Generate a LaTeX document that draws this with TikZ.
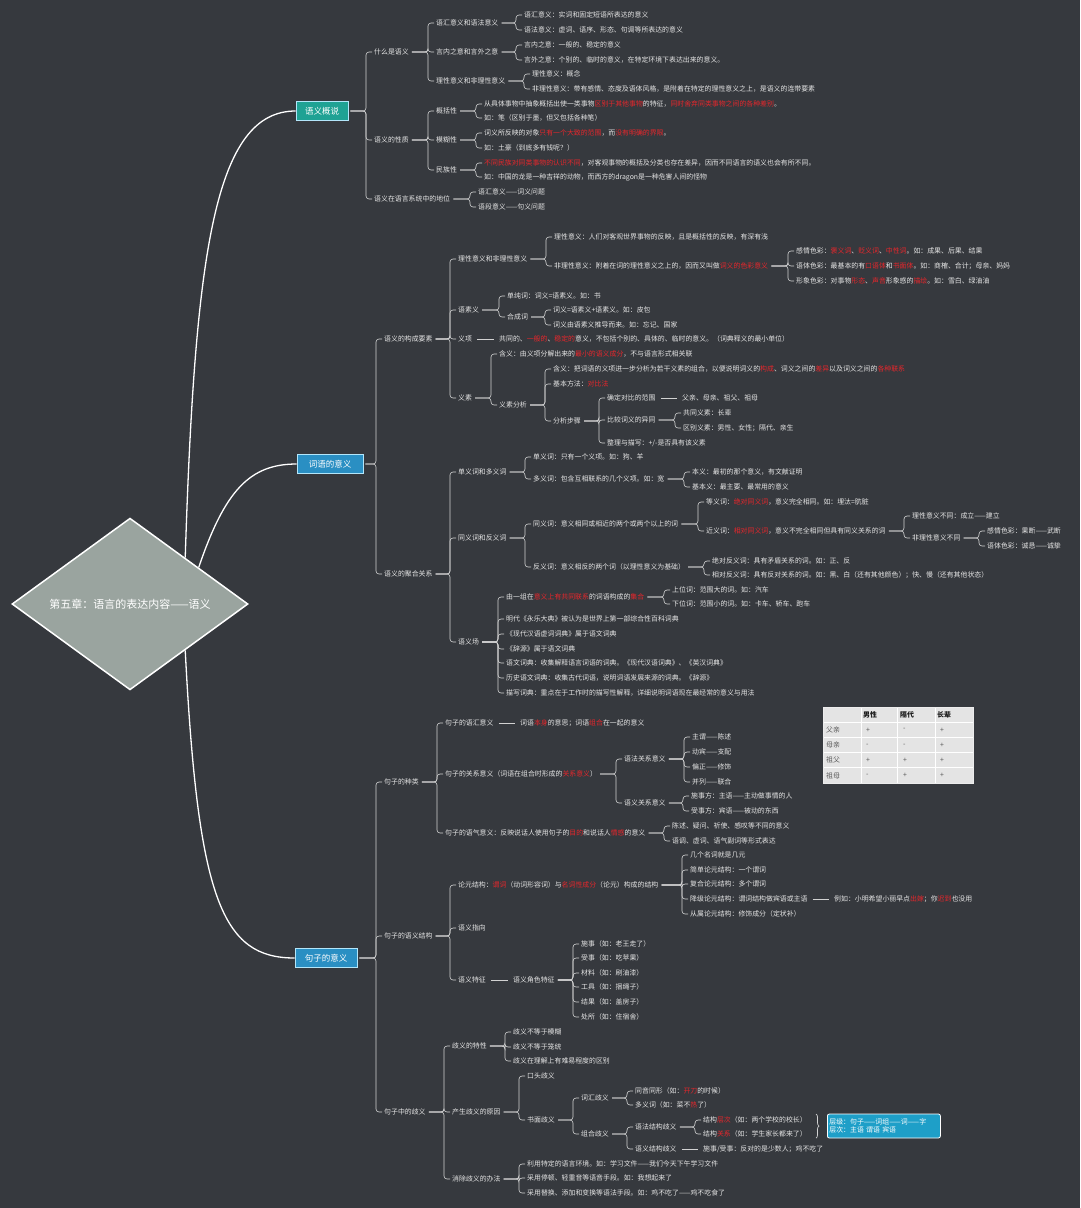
\documentclass[tikz,border=0pt]{standalone}
\usepackage{fontspec}
\setmainfont{Noto Sans CJK SC}
\usetikzlibrary{shapes.geometric,calc,decorations.pathreplacing}
\definecolor{bg}{HTML}{36393E}
\definecolor{txt}{HTML}{E6E6E6}
\definecolor{ln}{HTML}{D2D2D2}
\definecolor{hl}{HTML}{E8262B}
\definecolor{teal1}{HTML}{1FA294}
\definecolor{blue1}{HTML}{2A8FC3}
\definecolor{dia}{HTML}{9AA49F}
\definecolor{tbbg}{HTML}{E4E4E4}
\definecolor{call}{HTML}{1E9FC8}
\newcommand\fs{\fontsize{6.9}{8}\selectfont}
\newcommand\rd[1]{\textcolor{hl}{#1}}
\tikzset{
  lbl/.style={anchor=west, inner sep=1pt, text=txt, font=\fs, text height=6.1pt, text depth=0.9pt},
  conn/.style={draw=ln, line width=0.6pt, rounded corners=3pt},
  trunk/.style={draw=white, line width=1.3pt},
  mainbox/.style={draw=white!70!cyan, line width=0.7pt, text=white, font=\fontsize{8.5}{10}\selectfont, inner sep=0pt, minimum height=19pt},
  tbtxt/.style={anchor=west, inner sep=0pt, font=\fs, text=black!65},
  tbhead/.style={tbtxt, text=black!90, font=\fs\bfseries},
}
\newcommand\nd[4]{\node[lbl] (#1) at (#2,#3) {#4};}
\newcommand\lk[2]{\path (#2.west) ++(-7,0) coordinate (tmpc); \draw[conn] ([xshift=2pt]#1.east) -- (#1.east -| tmpc) |- ([xshift=-1pt]#2.west);}
\newcommand\lks[2]{\foreach \cc in {#2}{\lk{#1}{\cc}}}
\newcommand\ls[2]{\draw[conn] ([xshift=4pt]#1.east) -- ([xshift=-4pt]#2.west);}
\begin{document}
\begin{tikzpicture}[x=1pt,y=-1pt]
\useasboundingbox (0,0) rectangle (1080,1208);
\fill[bg] (0,0) rectangle (1080,1208);

% root and main branches
\node[diamond, draw=white, line width=1.5pt, fill=dia, minimum width=236pt, minimum height=137pt, inner sep=0pt, text=white, font=\fontsize{11}{13}\selectfont] (root) at (130,604) {第五章：语言的表达内容——语义};
\node[mainbox, fill=teal1, minimum width=52pt] (m1) at (322,111) {语义概说};
\node[mainbox, fill=blue1, minimum width=66pt] (m2) at (330,464) {词语的意义};
\node[mainbox, fill=blue1, minimum width=62pt] (m3) at (326,958) {句子的意义};
\draw[trunk] (root.40) .. controls (195,250) and (215,111) .. (m1.west);
\draw[trunk] (root.28) .. controls (225,490) and (250,464) .. (m2.west);
\draw[trunk] (root.-40) .. controls (198,900) and (222,958) .. (m3.west);

% ===== 语义概说 =====
\nd{a1}{373}{52}{什么是语义}
\nd{a11}{435}{23}{语汇意义和语法意义}
\nd{a111}{523}{15}{语汇意义：实词和固定短语所表达的意义}
\nd{a112}{523}{30}{语法意义：虚词、语序、形态、句调等所表达的意义}
\nd{a12}{435}{52}{言内之意和言外之意}
\nd{a121}{523}{45}{言内之意：一般的、稳定的意义}
\nd{a122}{523}{60}{言外之意：个别的、临时的意义，在特定环境下表达出来的意义。}
\nd{a13}{435}{81}{理性意义和非理性意义}
\nd{a131}{531}{74}{理性意义：概念}
\nd{a132}{531}{89}{非理性意义：带有感情、态度及语体风格，是附着在特定的理性意义之上，是语义的连带要素}
\nd{a2}{373}{140}{语义的性质}
\nd{a21}{435}{111}{概括性}
\nd{a211}{483}{104}{从具体事物中抽象概括出使一类事物\rd{区别于其他事物}的特征，\rd{同时舍弃同类事物之间的各种差别}。}
\nd{a212}{483}{118}{如：笔（区别于墨，但又包括各种笔）}
\nd{a22}{435}{140}{模糊性}
\nd{a221}{483}{133}{词义所反映的对象\rd{只有一个大致的范围}，而\rd{没有明确的界限}。}
\nd{a222}{483}{148}{如：土豪（到底多有钱呢？）}
\nd{a23}{435}{170}{民族性}
\nd{a231}{483}{163}{\rd{不同民族对同类事物的认识不同}，对客观事物的概括及分类也存在差异，因而不同语言的语义也会有所不同。}
\nd{a232}{483}{177}{如：中国的龙是一种吉祥的动物，而西方的dragon是一种危害人间的怪物}
\nd{a3}{373}{199}{语义在语言系统中的地位}
\nd{a31}{477}{192}{语汇意义——词义问题}
\nd{a32}{477}{207}{语段意义——句义问题}

% ===== 词语的意义 =====
\nd{b1}{383}{339}{语义的构成要素}
\nd{b11}{457}{259}{理性意义和非理性意义}
\nd{b111}{553}{237}{理性意义：人们对客观世界事物的反映，且是概括性的反映，有深有浅}
\nd{b112}{553}{266}{非理性意义：附着在词的理性意义之上的，因而又叫做\rd{词义的色彩意义}}
\nd{b1121}{795}{251}{感情色彩：\rd{褒义词}、\rd{贬义词}、\rd{中性词}。如：成果、后果、结果}
\nd{b1122}{795}{266}{语体色彩：最基本的有\rd{口语体}和\rd{书面体}。如：商榷、合计；母亲、妈妈}
\nd{b1123}{795}{281}{形象色彩：对事物\rd{形态}、\rd{声音}形象感的\rd{描绘}。如：雪白、绿油油}
\nd{b12}{457}{310}{语素义}
\nd{b121}{506}{296}{单纯词：词义=语素义。如：书}
\nd{b122}{506}{317}{合成词}
\nd{b1221}{552}{310}{词义=语素义+语素义。如：皮包}
\nd{b1222}{552}{325}{词义由语素义推导而来。如：忘记、国家}
\nd{b13}{457}{339}{义项}
\nd{b131}{498}{339}{共同的、\rd{一般的}、\rd{稳定的}意义，不包括个别的、具体的、临时的意义。（词典释义的最小单位）}
\nd{b14}{457}{398}{义素}
\nd{b141}{498}{354}{含义：由义项分解出来的\rd{最小的语义成分}，不与语言形式相关联}
\nd{b142}{498}{405}{义素分析}
\nd{b1421}{552}{369}{含义：把词语的义项进一步分析为若干义素的组合，以便说明词义的\rd{构成}、词义之间的\rd{差异}以及词义之间的\rd{各种联系}}
\nd{b1422}{552}{384}{基本方法：\rd{对比法}}
\nd{b1423}{552}{421}{分析步骤}
\nd{b14231}{606}{398}{确定对比的范围}
\nd{b142311}{681}{398}{父亲、母亲、祖父、祖母}
\nd{b14232}{606}{420}{比较词义的异同}
\nd{b142321}{682}{413}{共同义素：长辈}
\nd{b142322}{682}{428}{区别义素：男性、女性；隔代、亲生}
\nd{b14233}{606}{443}{整理与描写：+/-是否具有该义素}

\nd{b2}{383}{574}{语义的聚合关系}
\nd{b21}{457}{472}{单义词和多义词}
\nd{b211}{532}{457}{单义词：只有一个义项。如：狗、羊}
\nd{b212}{532}{479}{多义词：包含互相联系的几个义项。如：宽}
\nd{b2121}{691}{472}{本义：最初的那个意义，有文献证明}
\nd{b2122}{691}{487}{基本义：最主要、最常用的意义}
\nd{b22}{457}{538}{同义词和反义词}
\nd{b221}{532}{524}{同义词：意义相同或相近的两个或两个以上的词}
\nd{b2211}{705}{502}{等义词：\rd{绝对同义词}，意义完全相同。如：埋汰=肮脏}
\nd{b2212}{705}{531}{近义词：\rd{相对同义词}，意义不完全相同但具有同义关系的词}
\nd{b22121}{911}{516}{理性意义不同：成立——建立}
\nd{b22122}{911}{538}{非理性意义不同}
\nd{b221221}{986}{531}{感情色彩：果断——武断}
\nd{b221222}{986}{546}{语体色彩：诚恳——诚挚}
\nd{b222}{532}{567}{反义词：意义相反的两个词（以理性意义为基础）}
\nd{b2221}{711}{561}{绝对反义词：具有矛盾关系的词。如：正、反}
\nd{b2222}{711}{575}{相对反义词：具有反对关系的词。如：黑、白（还有其他颜色）；快、慢（还有其他状态）}
\nd{b23}{457}{642}{语义场}
\nd{b231}{505}{597}{由一组在\rd{意义上有共同联系}的词语构成的\rd{集合}}
\nd{b2311}{671}{590}{上位词：范围大的词。如：汽车}
\nd{b2312}{671}{604}{下位词：范围小的词。如：卡车、轿车、跑车}
\nd{b232}{505}{619}{明代《永乐大典》被认为是世界上第一部综合性百科词典}
\nd{b233}{505}{634}{《现代汉语虚词词典》属于语文词典}
\nd{b234}{505}{649}{《辞源》属于语文词典}
\nd{b235}{505}{663}{语文词典：收集解释语言词语的词典。《现代汉语词典》、《英汉词典》}
\nd{b236}{505}{678}{历史语文词典：收集古代词语，说明词语发展来源的词典。《辞源》}
\nd{b237}{505}{693}{描写词典：重点在于工作时的描写性解释，详细说明词语现在最经常的意义与用法}

% ===== 句子的意义 =====
\nd{c1}{383}{782}{句子的种类}
\nd{c11}{444}{723}{句子的语汇意义}
\nd{c111}{519}{723}{词语\rd{本身}的意思；词语\rd{组合}在一起的意义}
\nd{c12}{444}{774}{句子的关系意义（词语在组合时形成的\rd{关系意义}）}
\nd{c121}{623}{759}{语法关系意义}
\nd{c1211}{691}{737}{主谓——陈述}
\nd{c1212}{691}{752}{动宾——支配}
\nd{c1213}{691}{767}{偏正——修饰}
\nd{c1214}{691}{782}{并列——联合}
\nd{c122}{623}{803}{语义关系意义}
\nd{c1221}{690}{796}{施事方：主语——主动做事情的人}
\nd{c1222}{690}{811}{受事方：宾语——被动的东西}
\nd{c13}{444}{833}{句子的语气意义：反映说话人使用句子的\rd{目的}和说话人\rd{情感}的意义}
\nd{c131}{671}{826}{陈述、疑问、祈使、感叹等不同的意义}
\nd{c132}{671}{841}{语调、虚词、语气副词等形式表达}
\nd{c2}{383}{936}{句子的语义结构}
\nd{c21}{457}{885}{论元结构：\rd{谓词}（动词形容词）与\rd{名词性成分}（论元）构成的结构}
\nd{c211}{689}{855}{几个名词就是几元}
\nd{c212}{689}{870}{简单论元结构：一个谓词}
\nd{c213}{689}{884}{复合论元结构：多个谓词}
\nd{c214}{689}{899}{降级论元结构：谓词结构做宾语或主语}
\nd{c2141}{833}{899}{例如：小明希望小丽早点\rd{出嫁}；你\rd{迟到}也没用}
\nd{c215}{689}{914}{从属论元结构：修饰成分（定状补）}
\nd{c22}{457}{928}{语义指向}
\nd{c23}{457}{980}{语义特征}
\nd{c231}{512}{980}{语义角色特征}
\nd{c2311}{580}{944}{施事（如：老王走了）}
\nd{c2312}{580}{958}{受事（如：吃苹果）}
\nd{c2313}{580}{973}{材料（如：刷油漆）}
\nd{c2314}{580}{987}{工具（如：捆绳子）}
\nd{c2315}{580}{1002}{结果（如：盖房子）}
\nd{c2316}{580}{1017}{处所（如：住宿舍）}
\nd{c3}{383}{1112}{句子中的歧义}
\nd{c31}{451}{1046}{歧义的特性}
\nd{c311}{512}{1032}{歧义不等于模糊}
\nd{c312}{512}{1047}{歧义不等于笼统}
\nd{c313}{512}{1061}{歧义在理解上有难易程度的区别}
\nd{c32}{451}{1112}{产生歧义的原因}
\nd{c321}{526}{1076}{口头歧义}
\nd{c322}{526}{1120}{书面歧义}
\nd{c3221}{580}{1098}{词汇歧义}
\nd{c32211}{634}{1091}{同音同形（如：\rd{开刀}的时候）}
\nd{c32212}{634}{1105}{多义词（如：菜不\rd{热}了）}
\nd{c3222}{580}{1134}{组合歧义}
\nd{c32221}{634}{1127}{语法结构歧义}
\nd{c322211}{702}{1120}{结构\rd{层次}（如：两个学校的校长）}
\nd{c322212}{702}{1134}{结构\rd{关系}（如：学生家长都来了）}
\nd{c32222}{634}{1149}{语义结构歧义}
\nd{c322221}{702}{1149}{施事/受事：反对的是少数人；鸡不吃了}
\nd{c33}{451}{1179}{消除歧义的办法}
\nd{c331}{526}{1164}{利用特定的语言环境。如：学习文件——我们今天下午学习文件}
\nd{c332}{526}{1178}{采用停顿、轻重音等语音手段。如：我想起来了}
\nd{c333}{526}{1193}{采用替换、添加和变换等语法手段。如：鸡不吃了——鸡不吃食了}

% ===== connectors =====
\lks{m1}{a1,a2,a3}
\lks{a1}{a11,a12,a13}
\lks{a11}{a111,a112}
\lks{a12}{a121,a122}
\lks{a13}{a131,a132}
\lks{a2}{a21,a22,a23}
\lks{a21}{a211,a212}
\lks{a22}{a221,a222}
\lks{a23}{a231,a232}
\lks{a3}{a31,a32}
\lks{m2}{b1,b2}
\lks{b1}{b11,b12,b13,b14}
\lks{b11}{b111,b112}
\lks{b112}{b1121,b1122,b1123}
\lks{b12}{b121,b122}
\lks{b122}{b1221,b1222}
\ls{b13}{b131}
\lks{b14}{b141,b142}
\lks{b142}{b1421,b1422,b1423}
\lks{b1423}{b14231,b14232,b14233}
\ls{b14231}{b142311}
\lks{b14232}{b142321,b142322}
\lks{b2}{b21,b22,b23}
\lks{b21}{b211,b212}
\lks{b212}{b2121,b2122}
\lks{b22}{b221,b222}
\lks{b221}{b2211,b2212}
\lks{b2212}{b22121,b22122}
\lks{b22122}{b221221,b221222}
\lks{b222}{b2221,b2222}
\lks{b23}{b231,b232,b233,b234,b235,b236,b237}
\lks{b231}{b2311,b2312}
\lks{m3}{c1,c2,c3}
\lks{c1}{c11,c12,c13}
\ls{c11}{c111}
\lks{c12}{c121,c122}
\lks{c121}{c1211,c1212,c1213,c1214}
\lks{c122}{c1221,c1222}
\lks{c13}{c131,c132}
\lks{c2}{c21,c22,c23}
\lks{c21}{c211,c212,c213,c214,c215}
\ls{c214}{c2141}
\ls{c23}{c231}
\lks{c231}{c2311,c2312,c2313,c2314,c2315,c2316}
\lks{c3}{c31,c32,c33}
\lks{c31}{c311,c312,c313}
\lks{c32}{c321,c322}
\lks{c322}{c3221,c3222}
\lks{c3221}{c32211,c32212}
\lks{c3222}{c32221,c32222}
\lks{c32221}{c322211,c322212}
\ls{c32222}{c322221}
\lks{c33}{c331,c332,c333}

% ===== table =====
\fill[tbbg] (823,707) rectangle (973,783);
\foreach \yy in {722,737.25,752.5,767.75} \draw[white, line width=0.8pt] (823,\yy) -- (973,\yy);
\foreach \xx in {861,897,935} \draw[white, line width=0.8pt] (\xx,707) -- (\xx,783);
\draw[white!85!gray, line width=1pt] (823,707) rectangle (973,783);
\node[tbhead] (th1) at (863,715) {男性};
\node[tbhead] (th2) at (900,715) {隔代};
\node[tbhead] (th3) at (937,715) {长辈};
\foreach \lab/\va/\vb/\vc [count=\i] in {父亲/+/-/+,母亲/-/-/+,祖父/+/+/+,祖母/-/+/+}{
  \node[tbtxt] (tr\i) at (826,{714.6+15.25*\i}) {\lab};
  \node[tbtxt] (ta\i) at (866,{714.6+15.25*\i}) {\va};
  \node[tbtxt] (tb\i) at (903,{714.6+15.25*\i}) {\vb};
  \node[tbtxt] (tc\i) at (940,{714.6+15.25*\i}) {\vc};
}

% ===== brace and callout =====
\draw[ln, line width=0.7pt, decorate, decoration={brace, amplitude=3pt}] (816,1114) -- (816,1138);
\node[draw=white, line width=0.8pt, fill=call, rounded corners=2pt, anchor=west, text width=109pt, minimum height=24pt, inner sep=2pt, align=left, text=white, font=\fontsize{6.9}{8}\selectfont] (callout) at (827,1126) {层级：句子——词组——词——字\\层次：主语 谓语 宾语};
\end{tikzpicture}
\end{document}
